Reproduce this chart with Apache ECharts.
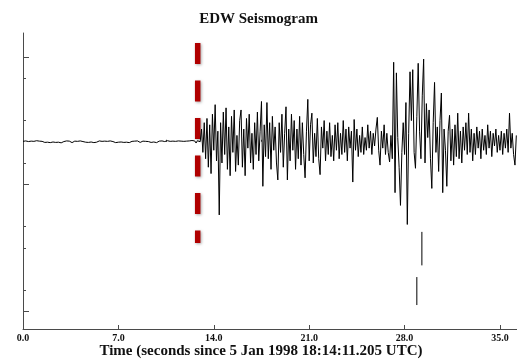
<!DOCTYPE html>
<html><head><meta charset="utf-8">
<script src="https://cdn.jsdelivr.net/npm/echarts@6/dist/echarts.min.js"></script>
<style>html,body{margin:0;padding:0;background:#fff}#c{width:517px;height:360px}</style>
</head><body><div id="c"></div>
<script>
// ---- data ----
const titleText = 'EDW Seismogram';
const xAxisName = 'Time (seconds since 5 Jan 1998 18:14:11.205 UTC)';
const sampleInterval = 0.1; // seconds between samples
const xMin = 0, xMax = 36.25;
const yMin = -8.83, yMax = 5.13;
const xMajorTicks = [0, 7, 14, 21, 28, 35];
const xMinorTicks = [10.5, 17.5, 24.5];
const yMajorTicks = [-8, -2, 4];
const yMinorTicks = [3, 1, -1, -4, -5, -7];
// pre-event noise, t = 0.0 .. 12.9 s
const noise = [
 0.02,-0.03,0.04,-0.02,0.01,-0.04,0.03,-0.01,0.02,-0.03,
 0.05,-0.02,0.03,-0.04,0.02,0.04,-0.03,0.01,-0.02,0.03,
 -0.04,0.02,-0.01,0.03,-0.03,0.04,-0.02,0.02,-0.05,0.03,
 0.01,-0.03,0.04,-0.02,0.03,-0.01,-0.04,0.02,0.03,-0.03,
 0.02,-0.02,0.04,-0.04,0.01,0.03,-0.02,0.02,-0.03,0.05,
 -0.01,0.02,-0.04,0.03,-0.02,0.01,0.04,-0.03,0.02,-0.02,
 0.03,-0.04,0.02,-0.01,0.04,-0.03,0.01,0.02,-0.04,0.03,
 -0.02,0.04,-0.01,0.02,-0.03,0.03,-0.02,0.05,-0.04,0.01,
 0.02,-0.03,0.03,-0.02,0.04,-0.01,-0.03,0.02,0.03,-0.04,
 0.02,-0.02,0.01,0.04,-0.03,0.02,-0.01,0.03,-0.04,0.02,
 0.03,-0.02,0.04,-0.03,0.01,-0.02,0.05,-0.03,0.02,-0.04,
 0.03,-0.01,0.02,-0.03,0.04,-0.02,0.03,-0.04,0.02,-0.01,
 0.03,-0.05,0.04,-0.02,0.06,-0.03,0.04,-0.06,0.05,-0.04
];
// signal, t = 13.0 .. 36.2 s
const signal = [
 0,0.6,-0.5,0.9,-0.8,1.1,-1.2,0.8,-1.5,1.3,
 -0.4,1.75,-0.9,0.5,-3.45,0.9,-1.0,1.4,-0.6,1.6,
 -1.3,0.7,-1.6,1.2,-0.5,1.5,-1.4,0.3,-1.1,1.0,
 1.5,-1.2,0.6,-1.6,1.1,-0.3,1.3,-1.0,0.4,-1.3,
 0.9,-0.6,1.4,-0.9,0.5,1.9,-2.1,0.8,-0.7,1.85,
 -0.8,0.9,-1.3,1.2,-0.4,0.7,-1.0,-1.8,0.9,-0.5,
 1.3,-1.2,0.4,1.65,-1.8,0.6,-0.9,1.3,-0.4,1.0,
 -1.3,0.6,-0.8,1.2,-1.1,0.9,-0.6,-1.7,0.5,2.0,
 -0.9,0.8,1.35,-1.0,0.4,-0.7,1.1,-0.8,-1.55,0.7,
 -0.3,1.0,-0.9,0.5,-0.6,0.9,-0.7,0.3,-0.9,0.8,
 -0.4,0.9,-0.8,0.4,-0.6,1.0,-0.5,0.6,-0.9,0.7,
 -0.3,0.5,-1.9,1.05,-0.4,0.6,-0.7,0.3,-0.5,0.7,
 -0.6,0.2,-0.4,0.8,-0.3,0.5,-0.6,0.4,-0.2,0.6,
 1.15,-0.4,-1.1,0.5,-0.3,0.8,-0.6,0.4,-0.5,-0.95,
 0.3,-0.8,3.75,-2.4,3.25,0.2,-1.2,-3.0,-0.5,0.9,
 -0.6,1.85,-3.9,0.4,3.3,1.0,3.4,-0.5,-1.25,1.2,
 3.7,0.5,-0.8,2.2,3.9,-1.0,1.8,0.2,1.5,-0.8,
 -2.2,0.9,2.8,-0.5,0.7,-1.4,1.0,2.3,-2.4,0.6,
 -0.4,-2.1,0.5,1.25,-0.9,0.6,-1.1,0.8,-0.7,1.35,
 -0.8,0.5,-1.0,0.7,-0.4,0.9,-0.6,1.35,-0.5,0.6,
 -0.9,0.4,-0.6,0.7,-0.3,0.5,-0.8,0.6,-0.4,0.3,
 -0.6,0.8,-0.3,0.5,-0.7,0.4,-0.2,0.6,-0.5,0.3,
 -0.4,0.5,-0.6,0.4,-0.3,0.6,-0.5,1.35,-0.3,0.4,
 -0.6,-1.1,0.3
];
// detached trace fragments
const fragTimes = [28.9, 29.27];
const fragTop = [-6.38, -4.25];
const fragBottom = [-7.7, -5.83];
// P-wave pick marker
const pickTime = 12.82, pickTop = 4.66, pickBottom = -4.77;

// ---- build ----
const amplitudes = noise.concat(signal);
const traceData = amplitudes.map((v, i) => [+(i * sampleInterval).toFixed(2), v]);
const fragData = [];
fragTimes.forEach((t, i) => {
  if (i > 0) fragData.push([t, '-']);
  fragData.push([t, fragTop[i]], [t, fragBottom[i]]);
});
const serif = 'Liberation Serif';
const axisColor = '#4a4a4a';
const chart = echarts.init(document.getElementById('c'), null, {renderer: 'canvas'});
chart.setOption({
  animation: false,
  backgroundColor: '#fff',
  title: {
    text: titleText, left: 'center', top: 7,
    textStyle: {fontFamily: serif, fontWeight: 'bold', fontSize: 15, color: '#111'}
  },
  grid: {left: 23, right: 0, top: 33, bottom: 31, containLabel: false, outerBoundsMode: 'none'},
  xAxis: [{
    type: 'value', min: xMin, max: xMax, position: 'bottom',
    name: xAxisName, nameLocation: 'middle', nameGap: 15, nameMoveOverlap: false,
    nameTextStyle: {fontFamily: serif, fontWeight: 'bold', fontSize: 15, color: '#111', padding: [0, 18, 0, 0]},
    axisLine: {show: true, onZero: false, lineStyle: {color: axisColor, width: 1}},
    axisTick: {show: true, inside: true, length: 4, customValues: xMajorTicks, lineStyle: {color: axisColor}},
    axisLabel: {show: true, customValues: xMajorTicks, margin: 4, formatter: v => v.toFixed(1),
      fontFamily: serif, fontWeight: 'bold', fontSize: 10, color: '#111'},
    splitLine: {show: false}
  }, {
    type: 'value', min: xMin, max: xMax, position: 'bottom',
    axisLine: {show: false},
    axisTick: {show: true, inside: true, length: 2, customValues: xMinorTicks, lineStyle: {color: axisColor}},
    axisLabel: {show: false}, splitLine: {show: false}
  }],
  yAxis: [{
    type: 'value', min: yMin, max: yMax, position: 'left',
    axisLine: {show: true, onZero: false, lineStyle: {color: axisColor, width: 1}},
    axisTick: {show: true, inside: true, length: 6, customValues: yMajorTicks, lineStyle: {color: axisColor}},
    axisLabel: {show: false}, splitLine: {show: false}
  }, {
    type: 'value', min: yMin, max: yMax, position: 'left',
    axisLine: {show: false},
    axisTick: {show: true, inside: true, length: 3, customValues: yMinorTicks, lineStyle: {color: axisColor}},
    axisLabel: {show: false}, splitLine: {show: false}
  }],
  series: [{
    type: 'line', data: [[pickTime, pickTop], [pickTime, pickBottom]],
    showSymbol: false, silent: true, z: 1,
    lineStyle: {color: '#b00000', width: 5.5, type: [21, 16.5], cap: 'butt',
      shadowBlur: 3, shadowColor: 'rgba(0,0,0,0.35)', shadowOffsetX: 1, shadowOffsetY: 1}
  }, {
    type: 'line', data: traceData, showSymbol: false, sampling: null, z: 3,
    lineStyle: {color: '#000', width: 1}
  }, {
    type: 'line', data: fragData, showSymbol: false, connectNulls: false, z: 3,
    lineStyle: {color: '#000', width: 1}
  }]
});
</script></body></html>
